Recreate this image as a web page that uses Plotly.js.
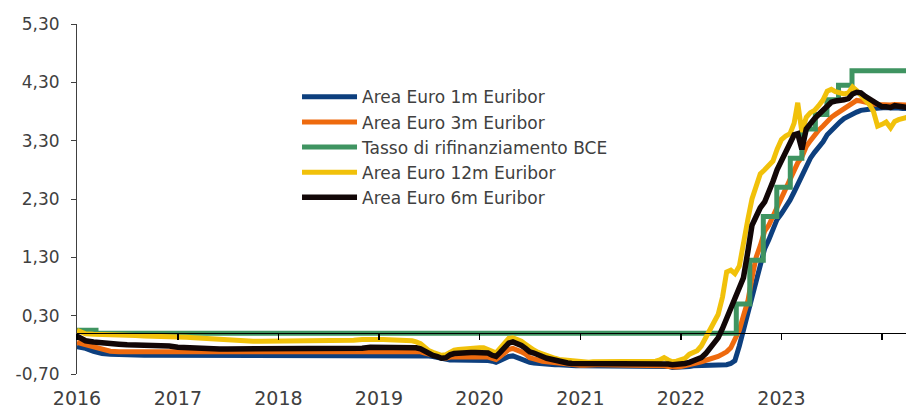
<!DOCTYPE html>
<html>
<head>
<meta charset="utf-8">
<script src="https://cdn.plot.ly/plotly-3.0.1.min.js"></script>
<style>
html,body{margin:0;padding:0;background:#ffffff;}
#chart{width:906px;height:410px;}
</style>
</head>
<body>
<div id="chart"></div>
<script>
// ---- Dates (monthly 2016-2018, semi-monthly 2019-2024) ----
const dates = [
 '2016-01-01','2016-02-01','2016-03-01','2016-04-01','2016-05-01','2016-06-01','2016-07-01','2016-08-01','2016-09-01','2016-10-01','2016-11-01','2016-12-01',
 '2017-01-01','2017-02-01','2017-03-01','2017-04-01','2017-05-01','2017-06-01','2017-07-01','2017-08-01','2017-09-01','2017-10-01','2017-11-01','2017-12-01',
 '2018-01-01','2018-02-01','2018-03-01','2018-04-01','2018-05-01','2018-06-01','2018-07-01','2018-08-01','2018-09-01','2018-10-01','2018-11-01','2018-12-01',
 '2019-01-01','2019-01-16','2019-02-01','2019-02-16','2019-03-01','2019-03-16','2019-04-01','2019-04-16','2019-05-01','2019-05-16','2019-06-01','2019-06-16',
 '2019-07-01','2019-07-16','2019-08-01','2019-08-16','2019-09-01','2019-09-16','2019-10-01','2019-10-16','2019-11-01','2019-11-16','2019-12-01','2019-12-16',
 '2020-01-01','2020-01-16','2020-02-01','2020-02-16','2020-03-01','2020-03-16','2020-04-01','2020-04-16','2020-05-01','2020-05-16','2020-06-01','2020-06-16',
 '2020-07-01','2020-07-16','2020-08-01','2020-08-16','2020-09-01','2020-09-16','2020-10-01','2020-10-16','2020-11-01','2020-11-16','2020-12-01','2020-12-16',
 '2021-01-01','2021-01-16','2021-02-01','2021-02-16','2021-03-01','2021-03-16','2021-04-01','2021-04-16','2021-05-01','2021-05-16','2021-06-01','2021-06-16',
 '2021-07-01','2021-07-16','2021-08-01','2021-08-16','2021-09-01','2021-09-16','2021-10-01','2021-10-16','2021-11-01','2021-11-16','2021-12-01','2021-12-16',
 '2022-01-01','2022-01-16','2022-02-01','2022-02-16','2022-03-01','2022-03-16','2022-04-01','2022-04-16','2022-05-01','2022-05-16','2022-06-01','2022-06-16',
 '2022-07-01','2022-07-16','2022-08-01','2022-08-16','2022-09-01','2022-09-16','2022-10-01','2022-10-16','2022-11-01','2022-11-16','2022-12-01','2022-12-16',
 '2023-01-01','2023-01-16','2023-02-01','2023-02-16','2023-03-01','2023-03-16','2023-04-01','2023-04-16','2023-05-01','2023-05-16','2023-06-01','2023-06-16',
 '2023-07-01','2023-07-16','2023-08-01','2023-08-16','2023-09-01','2023-09-16','2023-10-01','2023-10-16','2023-11-01','2023-11-16','2023-12-01','2023-12-16',
 '2024-01-01','2024-01-16','2024-02-01','2024-02-16','2024-03-01','2024-03-16','2024-04-01'
];

// ---- Area Euro 1m Euribor ----
const euribor1m = [
 -0.23,-0.26,-0.31,-0.35,-0.36,-0.37,-0.38,-0.38,-0.38,-0.38,-0.38,-0.38,
 -0.38,-0.38,-0.38,-0.38,-0.38,-0.38,-0.38,-0.38,-0.38,-0.38,-0.38,-0.38,
 -0.38,-0.38,-0.38,-0.38,-0.38,-0.38,-0.38,-0.38,-0.38,-0.38,-0.38,-0.37,
 -0.37,-0.37,-0.37,-0.37,-0.37,-0.37,-0.37,-0.37,-0.37,-0.37,-0.37,-0.38,-0.39,-0.40,-0.42,-0.44,-0.45,-0.46,-0.46,-0.46,-0.45,-0.45,-0.45,-0.45,
 -0.46,-0.46,-0.47,-0.48,-0.50,-0.47,-0.43,-0.40,-0.39,-0.42,-0.45,-0.48,-0.50,-0.51,-0.52,-0.52,-0.53,-0.53,-0.54,-0.54,-0.55,-0.56,-0.56,-0.56,
 -0.56,-0.56,-0.56,-0.56,-0.56,-0.56,-0.56,-0.56,-0.56,-0.56,-0.56,-0.56,-0.57,-0.57,-0.57,-0.57,-0.57,-0.57,-0.57,-0.57,-0.57,-0.57,-0.59,-0.59,
 -0.58,-0.57,-0.57,-0.56,-0.56,-0.56,-0.56,-0.56,-0.56,-0.56,-0.55,-0.54,-0.52,-0.47,-0.22,0.05,0.35,0.60,0.90,1.20,1.45,1.60,1.80,1.95,
 2.05,2.15,2.28,2.42,2.55,2.72,2.88,3.00,3.10,3.18,3.28,3.40,3.48,3.55,3.62,3.68,3.72,3.77,3.79,3.82,3.84,3.84,3.85,3.86,
 3.86,3.87,3.86,3.87,3.86,3.85,3.85
];

// ---- Area Euro 3m Euribor ----
const euribor3m = [
 -0.16,-0.20,-0.25,-0.29,-0.31,-0.32,-0.32,-0.32,-0.33,-0.33,-0.33,-0.33,
 -0.33,-0.33,-0.33,-0.33,-0.33,-0.33,-0.33,-0.33,-0.33,-0.33,-0.33,-0.33,
 -0.33,-0.33,-0.33,-0.33,-0.33,-0.33,-0.33,-0.33,-0.33,-0.32,-0.32,-0.32,
 -0.31,-0.31,-0.31,-0.31,-0.31,-0.31,-0.31,-0.31,-0.31,-0.32,-0.32,-0.34,-0.36,-0.38,-0.40,-0.42,-0.43,-0.41,-0.41,-0.41,-0.40,-0.40,-0.40,-0.39,
 -0.39,-0.39,-0.41,-0.43,-0.45,-0.40,-0.33,-0.28,-0.26,-0.28,-0.32,-0.36,-0.42,-0.44,-0.47,-0.48,-0.49,-0.50,-0.51,-0.51,-0.52,-0.53,-0.54,-0.54,
 -0.55,-0.55,-0.54,-0.54,-0.54,-0.54,-0.54,-0.54,-0.54,-0.54,-0.54,-0.54,-0.54,-0.54,-0.55,-0.55,-0.55,-0.55,-0.55,-0.55,-0.56,-0.57,-0.58,-0.58,
 -0.57,-0.56,-0.54,-0.53,-0.51,-0.49,-0.47,-0.45,-0.43,-0.40,-0.36,-0.32,-0.25,-0.12,0.05,0.30,0.55,0.95,1.30,1.50,1.75,1.85,2.00,2.18,
 2.30,2.45,2.62,2.78,2.92,3.02,3.20,3.30,3.40,3.48,3.55,3.64,3.70,3.75,3.80,3.85,3.90,3.95,3.99,3.98,3.96,3.93,3.93,3.92,
 3.91,3.92,3.91,3.92,3.92,3.92,3.91
];

// ---- Area Euro 12m Euribor ----
const euribor12m = [
 0.05,-0.01,-0.02,-0.02,-0.02,-0.03,-0.04,-0.04,-0.05,-0.05,-0.05,-0.06,
 -0.06,-0.07,-0.08,-0.09,-0.10,-0.12,-0.13,-0.13,-0.14,-0.14,-0.14,-0.14,
 -0.14,-0.14,-0.14,-0.14,-0.14,-0.14,-0.13,-0.13,-0.13,-0.12,-0.11,-0.10,
 -0.11,-0.11,-0.11,-0.11,-0.11,-0.12,-0.12,-0.12,-0.13,-0.15,-0.18,-0.24,-0.30,-0.33,-0.36,-0.38,-0.37,-0.32,-0.29,-0.28,-0.27,-0.26,-0.26,-0.25,
 -0.25,-0.25,-0.27,-0.31,-0.34,-0.26,-0.16,-0.09,-0.08,-0.10,-0.14,-0.19,-0.25,-0.29,-0.33,-0.36,-0.39,-0.41,-0.43,-0.45,-0.46,-0.47,-0.48,-0.49,
 -0.50,-0.50,-0.50,-0.49,-0.49,-0.49,-0.48,-0.48,-0.48,-0.48,-0.48,-0.48,-0.49,-0.49,-0.50,-0.50,-0.49,-0.49,-0.48,-0.46,-0.42,-0.46,-0.49,-0.48,
 -0.46,-0.43,-0.36,-0.33,-0.30,-0.22,-0.08,0.05,0.15,0.32,0.62,1.05,1.08,1.02,1.15,1.60,1.95,2.30,2.55,2.73,2.80,2.88,2.95,3.15,
 3.32,3.38,3.42,3.60,3.95,3.45,3.70,3.78,3.82,3.90,4.00,4.15,4.18,4.14,4.12,4.10,4.12,4.22,4.16,4.08,4.00,3.92,3.80,3.55,
 3.58,3.62,3.52,3.63,3.66,3.68,3.70
];

// ---- Area Euro 6m Euribor ----
const euribor6m = [
 -0.05,-0.13,-0.15,-0.17,-0.18,-0.19,-0.20,-0.20,-0.21,-0.21,-0.22,-0.22,
 -0.24,-0.25,-0.25,-0.25,-0.26,-0.27,-0.27,-0.27,-0.27,-0.27,-0.27,-0.27,
 -0.27,-0.27,-0.27,-0.27,-0.27,-0.27,-0.27,-0.27,-0.27,-0.26,-0.26,-0.24,
 -0.24,-0.23,-0.23,-0.23,-0.23,-0.23,-0.23,-0.23,-0.24,-0.25,-0.27,-0.31,-0.35,-0.38,-0.40,-0.43,-0.42,-0.37,-0.35,-0.34,-0.34,-0.33,-0.33,-0.33,
 -0.33,-0.33,-0.34,-0.38,-0.40,-0.33,-0.24,-0.17,-0.15,-0.17,-0.21,-0.26,-0.32,-0.34,-0.36,-0.40,-0.43,-0.45,-0.47,-0.49,-0.50,-0.51,-0.52,-0.52,
 -0.53,-0.53,-0.52,-0.52,-0.51,-0.51,-0.52,-0.52,-0.51,-0.51,-0.51,-0.51,-0.52,-0.52,-0.53,-0.53,-0.53,-0.52,-0.52,-0.52,-0.52,-0.53,-0.54,-0.54,
 -0.53,-0.52,-0.50,-0.47,-0.45,-0.42,-0.35,-0.26,-0.17,-0.08,0.08,0.25,0.42,0.58,0.75,0.95,1.40,1.85,2.00,2.15,2.25,2.40,2.60,2.80,
 2.95,3.10,3.25,3.40,3.42,3.15,3.50,3.60,3.68,3.75,3.82,3.90,3.96,3.98,3.98,4.00,4.02,4.10,4.13,4.12,4.06,4.02,3.96,3.92,
 3.88,3.88,3.87,3.90,3.89,3.88,3.87
];

// ---- Tasso di rifinanziamento BCE (step changes) ----
const bceDates = ['2016-01-01','2016-03-10','2022-07-21','2022-09-08','2022-10-27','2022-12-15','2023-02-02','2023-03-16','2023-05-04','2023-06-15','2023-07-27','2023-09-14','2024-04-30'];
const bceRate  = [0.05, 0.00, 0.50, 1.25, 2.00, 2.50, 3.00, 3.50, 3.75, 4.00, 4.25, 4.50, 4.50];

// ---- Axis ticks ----
const yTickVals = [-0.7, 0.3, 1.3, 2.3, 3.3, 4.3, 5.3];
const yTickText = ['-0,70','0,30','1,30','2,30','3,30','4,30','5,30'];
const yRange = [-0.7, 5.3];
const xRange = ['2016-01-01', '2024-03-28'];

const traces = [
  {x: dates, y: euribor1m, name: 'Area Euro 1m Euribor', type: 'scatter', mode: 'lines',
   line: {color: '#0D3F7E', width: 5}},
  {x: dates, y: euribor3m, name: 'Area Euro 3m Euribor', type: 'scatter', mode: 'lines',
   line: {color: '#EE6A0E', width: 5}},
  {x: bceDates, y: bceRate, name: 'Tasso di rifinanziamento BCE', type: 'scatter', mode: 'lines',
   line: {color: '#3F9461', width: 5, shape: 'hv'}},
  {x: dates, y: euribor12m, name: 'Area Euro 12m Euribor', type: 'scatter', mode: 'lines',
   line: {color: '#F1C10A', width: 5}},
  {x: dates, y: euribor6m, name: 'Area Euro 6m Euribor', type: 'scatter', mode: 'lines',
   line: {color: '#120707', width: 5.5}}
];

const zeroPos = (0 - yRange[0]) / (yRange[1] - yRange[0]);

const layout = {
  width: 906, height: 410,
  margin: {l: 77, r: 0, t: 24, b: 36, pad: 0},
  paper_bgcolor: '#ffffff', plot_bgcolor: '#ffffff',
  font: {family: 'DejaVu Sans, sans-serif', size: 17, color: '#404040'},
  showlegend: true,
  legend: {
    x: 0.2654, y: 0.842, xanchor: 'left', yanchor: 'top',
    itemwidth: 55,
    bgcolor: 'rgba(0,0,0,0)', borderwidth: 0,
    font: {family: 'DejaVu Sans, sans-serif', size: 17, color: '#404040'}
  },
  xaxis: {
    type: 'date', range: xRange,
    anchor: 'free', position: zeroPos,
    showline: true, linecolor: '#000000', linewidth: 1,
    ticks: 'outside', ticklen: 6, tickwidth: 1.5, tickcolor: '#000000',
    tick0: '2016-01-01', dtick: 'M12', tickformat: '%Y',
    ticklabelstandoff: 42,
    tickfont: {family: 'DejaVu Sans, sans-serif', size: 19, color: '#404040'},
    showgrid: false, zeroline: false, fixedrange: true
  },
  yaxis: {
    range: yRange,
    tickvals: yTickVals, ticktext: yTickText,
    showline: true, linecolor: '#404040', linewidth: 1,
    ticks: 'outside', ticklen: 5, tickcolor: '#404040',
    ticklabelstandoff: 8,
    tickfont: {family: 'DejaVu Sans, sans-serif', size: 17, color: '#404040'},
    showgrid: false, zeroline: false, fixedrange: true
  }
};

Plotly.newPlot('chart', traces, layout, {displayModeBar: false, staticPlot: true});
</script>
</body>
</html>
